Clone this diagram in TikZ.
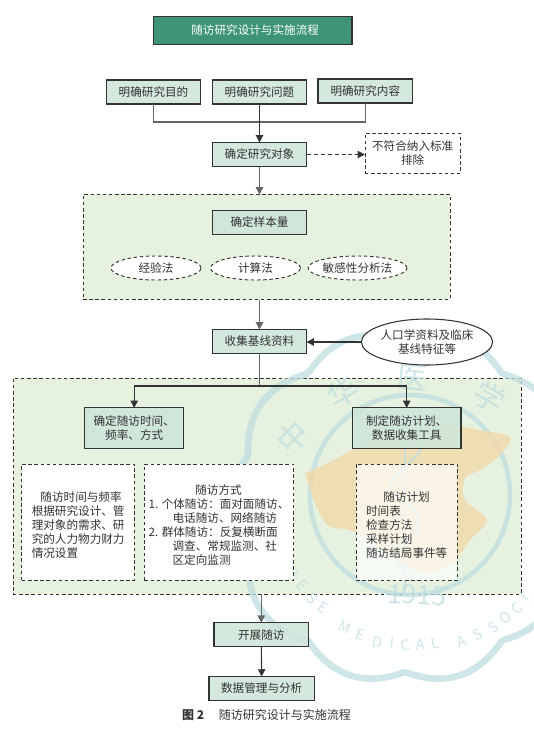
\documentclass[tikz,border=0pt]{standalone}
\usepackage{fontspec}
\usepackage{xcolor}
\usetikzlibrary{arrows.meta,shapes.geometric}
\setmainfont{Noto Sans CJK SC}
\definecolor{titlegreen}{HTML}{3D9478}
\definecolor{boxgreen}{HTML}{CFE5DA}
\definecolor{panelgreen}{HTML}{E6F1E0}
\definecolor{inkgrey}{HTML}{333333}
\definecolor{markblue}{HTML}{BFDDE0}
\definecolor{markmap}{HTML}{F2D9A8}

\begin{document}
\begin{tikzpicture}[
      x=0.75pt, y=-0.75pt,
      every node/.style={font=\fontsize{8.7pt}{10.5pt}\selectfont, text=inkgrey,
                         inner sep=0pt, outer sep=0pt},
      arr/.style={-{Triangle[length=5.5pt,width=5.5pt]}, line width=0.8pt, draw=inkgrey},
      greyarr/.style={arr, line width=1.1pt, draw=black!60},
      link/.style={line width=1.1pt, draw=black!60},
      dashline/.style={line width=0.7pt, draw=inkgrey, dash pattern=on 2.6pt off 2pt},
      stagebox/.style={draw=inkgrey, line width=0.8pt, fill=boxgreen, fill opacity=0.88,
                       text opacity=1, align=center, minimum width=71pt, minimum height=18pt},
      panel/.style={dashline, fill=panelgreen, minimum height=18pt},
      notebox/.style={dashline, fill=white, minimum height=87pt},
      method/.style={dashline, ellipse, fill=white, minimum width=67.5pt, minimum height=18pt},
      markletter/.style={font=\fontsize{11pt}{11pt}\selectfont, text=markblue}
  ]
    \useasboundingbox (0, 0) rectangle (534, 736);

    % ---- Dashed panels ----
    \node[panel, minimum width=275.2pt, minimum height=78.8pt] (samplepanel) at (266.5, 247) {};
    \node[panel, minimum width=381pt, minimum height=162pt] (followpanel) at (267, 486) {};

    % ---- Watermark ----
    \begin{scope}[shift={(405, 495)}, opacity=0.75]
      \clip (-405, -495) rectangle (129, 241);
      \draw[markblue, line width=5pt, smooth]
            plot[domain=0:360, samples=240] ([yshift=-9pt]\x:{165 + 12*abs(cos(5*\x))}) -- cycle;
      \draw[markblue, line width=3.5pt] (5, 0) circle [radius=100];
      \fill[markmap, opacity=0.8, smooth] plot coordinates {
            (-100, -22) (-75, -33) (-48, -48) (-32, -55) (20, -65) (45, -70) (75, -65)
            (105, -58) (95, -40) (75, -25) (60, -17) (60, 5) (82, 25) (65, 45)
            (45, 70) (15, 77) (-15, 60) (-35, 45) (-55, 35) (-78, 30) (-92, 3)} -- cycle;
      \draw[markblue, line width=1.8pt] (0, -70) -- (0, 95);
      \draw[markblue, line width=1.8pt, smooth] plot coordinates {
            (0, -62) (15, -45) (-6, -22) (-14, -5) (12, 18) (11, 38) (-10, 56) (0, 78)};
      \foreach \ch/\px/\py/\rot in {中/-112/-58/45, 华/-62/-102/30, 医/8/-118/-5, 学/85/-98/-30} {
        \node[font=\fontsize{23pt}{23pt}\selectfont, text=markblue, rotate=\rot] at (\px, \py) {\ch};
      }
      \foreach \ch/\px/\py in {N/-113/78, E/-103/90, S/-93/103, E/-82/113, M/-60/132, E/-45/140,
                               D/-28/147, I/-13/148, C/0/150, A/15/150, L/30/148, A/57/147,
                               S/73/140, S/88/133, O/100/123, C/112/113, I/120/102} {
        \node[markletter, rotate={atan2(\px,\py)}] at (\px, \py) {\ch};
      }
      \node[font=\fontsize{20pt}{20pt}\selectfont, text=markblue, rotate=-2] at (12, 100) {1915};
    \end{scope}

    % ---- Title ----
    \node[draw=inkgrey, line width=0.8pt, fill=titlegreen, text=white, minimum width=149.2pt,
          minimum height=21.4pt] (title) at (252.5, 30.5) {\hspace*{4pt}随访研究设计与实施流程};

    % ---- Research aims ----
    \node[stagebox] (purpose) at (153.5, 92) {明确研究目的};
    \node[stagebox] (question) at (259.5, 92) {明确研究问题};
    \node[stagebox] (content) at (365.3, 91) {明确研究内容};
    \node[stagebox] (subject) at (259.5, 154.5) {确定研究对象};
    \node[dashline, draw, fill=white, align=center, minimum width=71.6pt, minimum height=30.4pt]
          (exclusion) at (412.7, 153.3) {不符合纳入标准\\排除};
    \coordinate (aimjoin) at (259.5, 122);

    % ---- Sample size ----
    \node[stagebox] (samplesize) at (259.5, 222.5) {确定样本量};
    \node[method] (empirical) at (156, 268) {经验法};
    \node[method] (formula) at (255.5, 268) {计算法};
    \node[method, minimum width=74.2pt] (sensitivity) at (357.5, 268) {敏感性分析法};

    % ---- Baseline ----
    \node[stagebox, minimum width=70.5pt] (baseline) at (259.5, 341.5) {收集基线资料};
    \node[draw=inkgrey, line width=0.8pt, ellipse, fill=white, align=center,
          minimum width=93pt, minimum height=34.5pt]
          (demographics) at (427, 342) {人口学资料及临床\\基线特征等};
    \coordinate (split) at (259.5, 386);

    % ---- Follow-up design ----
    \node[stagebox, minimum width=73.9pt, minimum height=30.4pt] (schedule) at (134.2, 428.2)
          {确定随访时间、\\频率、方式};
    \node[stagebox, minimum width=81.4pt, minimum height=30.4pt] (plan) at (406.7, 428.2)
          {制定随访计划、\\数据收集工具};
    \node[notebox, minimum width=84.4pt, align=left] (timing) at (78.2, 522) {%
      \rule{0pt}{12pt}\hspace*{6.5pt}随访时间与频率\\
      根据研究设计、管\\
      理对象的需求、研\\
      究的人力物力财力\\
      情况设置};
    \node[notebox, minimum width=111.9pt, align=left] (mode) at (219, 522) {%
      \rule{0pt}{12pt}\hspace*{35pt}随访方式\\
      1. 个体随访：面对面随访、\\
      \hspace*{18pt}电话随访、网络随访\\
      2. 群体随访：反复横断面\\
      \hspace*{18pt}调查、常规监测、社\\
      \hspace*{18pt}区定向监测};
    \node[notebox, fill opacity=0.68, text opacity=1, minimum width=76pt, align=left]
          (planbox) at (406.7, 522) {%
      \rule{0pt}{12pt}\hspace*{13pt}随访计划\\
      时间表\\
      检查方法\\
      采样计划\\
      随访结局事件等};

    % ---- Conduct and analysis ----
    \node[stagebox] (conduct) at (261.3, 634.7) {开展随访};
    \node[stagebox, minimum width=79.1pt, minimum height=17.6pt] (analysis) at (261.7, 688.3) {数据管理与分析};

    % ---- Caption ----
    \node[font=\fontsize{9pt}{10.5pt}\selectfont] (caption) at (266.5, 715)
          {\textbf{图 2}\hspace{11pt}随访研究设计与实施流程};

    % Arrows
    \draw[link] (purpose.south) |- (aimjoin) -| (content.south);
    \draw[arr] (question.south) -- (subject.north);
    \draw[arr, dash pattern=on 3pt off 2.2pt] (subject.east) -- (subject.east -| exclusion.west);
    \draw[greyarr] (subject.south) -- (subject.south |- samplepanel.north);
    \draw[greyarr] (samplepanel.south -| baseline.north) -- (baseline.north);
    \draw[arr] (demographics.west) -- (demographics.west -| baseline.east);
    \draw[link] (baseline.south) -- (split);
    \draw[arr] (split) -| (schedule.north);
    \draw[arr] (split) -| (plan.north);
    \draw[greyarr] (followpanel.south -| conduct.north) -- (conduct.north);
    \draw[arr] (conduct.south) -- (analysis.north);

\end{tikzpicture}
\end{document}
